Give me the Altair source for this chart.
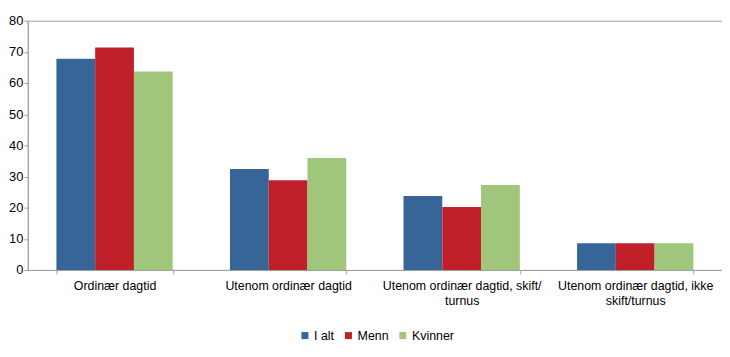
import altair as alt
import pandas as pd

categories = [
    "Ordinær dagtid",
    "Utenom ordinær dagtid",
    "Utenom ordinær dagtid, skift/|turnus",
    "Utenom ordinær dagtid, ikke|skift/turnus",
]
series = ["I alt", "Menn", "Kvinner"]
i_alt = [67.8, 32.4, 23.7, 8.6]
menn = [71.4, 28.8, 20.2, 8.6]
kvinner = [63.7, 35.9, 27.3, 8.6]
colors = ["#376597", "#C0202A", "#9FC67B"]

rows = []
for s, vals in zip(series, [i_alt, menn, kvinner]):
    for c, v in zip(categories, vals):
        rows.append({"kategori": c, "serie": s, "verdi": v})
df = pd.DataFrame(rows)

font = "Liberation Sans"

chart = alt.Chart(df).mark_bar().encode(
    x=alt.X(
        "kategori:N",
        sort=categories,
        title=None,
        scale=alt.Scale(paddingInner=0.33, paddingOuter=0.165),
        axis=alt.Axis(
            labelAngle=0,
            labelExpr="split(datum.label, '|')",
            labelFontSize=12.5,
            labelColor="#000000",
            labelFont=font,
            labelLineHeight=15,
            labelPadding=6,
            tickBand="extent",
            tickSize=4,
            tickColor="#a0a0a0",
            domainColor="#a0a0a0",
            labelLimit=200,
        ),
    ),
    xOffset=alt.XOffset("serie:N", sort=series),
    y=alt.Y(
        "verdi:Q",
        title=None,
        scale=alt.Scale(domain=[0, 80]),
        axis=alt.Axis(
            values=[0, 10, 20, 30, 40, 50, 60, 70, 80],
            grid=False,
            labelFontSize=13,
            labelFont=font,
            labelColor="#000000",
            tickSize=4,
            labelPadding=1,
            tickColor="#a0a0a0",
            domainColor="#a0a0a0",
        ),
    ),
    color=alt.Color(
        "serie:N",
        sort=series,
        scale=alt.Scale(domain=series, range=colors),
        legend=alt.Legend(
            title=None,
            orient="none",
            legendX=274,
            legendY=312,
            direction="horizontal",
            symbolType="square",
            symbolSize=50,
            symbolStrokeWidth=0,
            labelFontSize=12.5,
            labelFont=font,
            labelColor="#000000",
            labelOffset=3,
            columnPadding=8,
        ),
    ),
).properties(
    width=702,
    height=252,
    padding={"left": 0, "top": 5, "right": 0, "bottom": 0},
).configure_view(
    stroke="#a0a0a0", strokeWidth=1
)

chart.save("out.html", embed_options={"renderer": "svg", "actions": False})
